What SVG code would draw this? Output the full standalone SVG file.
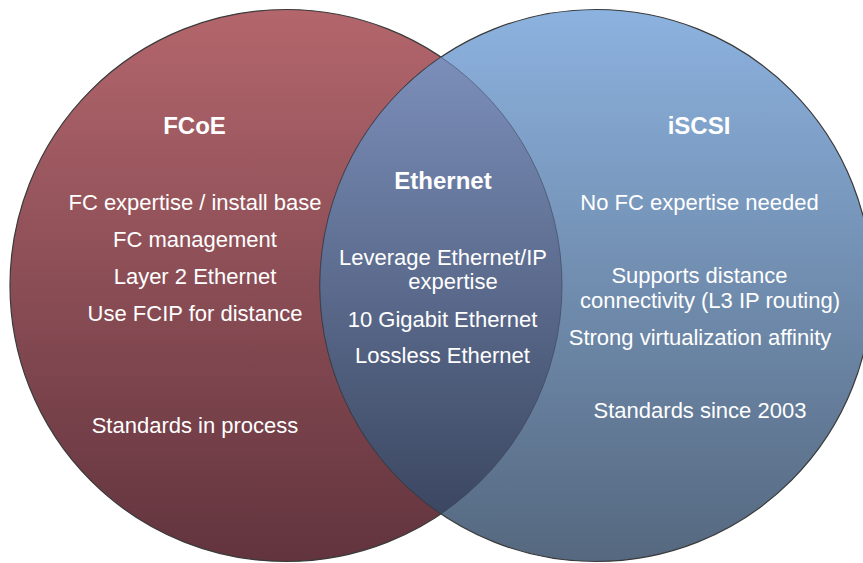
<svg xmlns="http://www.w3.org/2000/svg" width="863" height="563" viewBox="0 0 863 563">
  <defs>
    <linearGradient id="gRed" gradientUnits="userSpaceOnUse" x1="0" y1="10" x2="0" y2="561">
      <stop offset="0" stop-color="#B3666C"/>
      <stop offset="1" stop-color="#62343E"/>
    </linearGradient>
    <linearGradient id="gBlue" gradientUnits="userSpaceOnUse" x1="0" y1="10" x2="0" y2="561">
      <stop offset="0" stop-color="#8CB2DF"/>
      <stop offset="1" stop-color="#55687F"/>
    </linearGradient>
    <linearGradient id="gLens" gradientUnits="userSpaceOnUse" x1="0" y1="10" x2="0" y2="561">
      <stop offset="0" stop-color="#8296C3"/>
      <stop offset="1" stop-color="#354058"/>
    </linearGradient>
  </defs>
  <style>
    .circle { stroke: #3a3a3a; stroke-width: 1.2; }
    .lens { stroke: #2e3548; stroke-width: 0.8; stroke-opacity: 0.6; }
    text { font-family: "Liberation Sans", Arial, sans-serif; fill: #ffffff; text-anchor: middle; }
    .title { font-size: 24px; font-weight: bold; }
    .item { font-size: 22px; }
  </style>
  <rect width="863" height="563" fill="#ffffff"/>
  <g id="fcoe">
    <circle class="circle" cx="286" cy="285.5" r="276" fill="url(#gRed)"/>
  </g>
  <g id="iscsi">
    <circle class="circle" cx="596" cy="285.5" r="276" fill="url(#gBlue)"/>
  </g>
  <g id="ethernet">
    <path class="lens" d="M441,57.1 A276,276 0 0,0 441,513.9 A276,276 0 0,0 441,57.1 Z" fill="url(#gLens)"/>
  </g>
  <g id="fcoe-text">
    <text class="title" x="194.5" y="134">FCoE</text>
    <text class="item" x="195" y="210">FC expertise / install base</text>
    <text class="item" x="195" y="247">FC management</text>
    <text class="item" x="195" y="284">Layer 2 Ethernet</text>
    <text class="item" x="195" y="321">Use FCIP for distance</text>
    <text class="item" x="195" y="433">Standards in process</text>
  </g>
  <g id="ethernet-text">
    <text class="title" x="443" y="189">Ethernet</text>
    <text class="item" x="443" y="265">Leverage Ethernet/IP</text>
    <text class="item" x="453" y="289">expertise</text>
    <text class="item" x="442.5" y="327">10 Gigabit Ethernet</text>
    <text class="item" x="442.5" y="363">Lossless Ethernet</text>
  </g>
  <g id="iscsi-text">
    <text class="title" x="699" y="134">iSCSI</text>
    <text class="item" x="699.5" y="210">No FC expertise needed</text>
    <text class="item" x="699.5" y="283">Supports distance</text>
    <text class="item" x="710" y="308">connectivity (L3 IP routing)</text>
    <text class="item" x="700" y="345">Strong virtualization affinity</text>
    <text class="item" x="700" y="418">Standards since 2003</text>
  </g>
  <g id="connectors"/>
</svg>
